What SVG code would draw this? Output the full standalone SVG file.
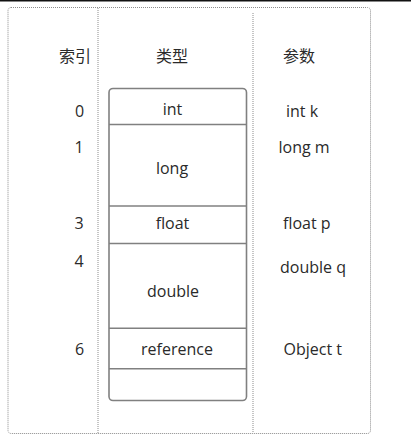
<svg xmlns="http://www.w3.org/2000/svg" width="411" height="443" viewBox="0 0 411 443">
<style>
.dot{fill:none;stroke:#8c8c8c;stroke-width:1;stroke-dasharray:1 1}
.box{fill:#fff;stroke:#808080;stroke-width:1.6}
.sep{stroke:#808080;stroke-width:1.6}
text{font-family:"Open Sans","Noto Sans CJK SC",sans-serif;font-size:16px;fill:#2a2a2a}
.cjk{font-family:"Noto Sans CJK SC",sans-serif;font-size:16px}
.m{text-anchor:middle}
</style>
<rect width="411" height="443" fill="#fff"/>
<rect x="0" y="0" width="411" height="1.5" fill="#111"/>
<g id="frame">
<rect class="dot" x="8" y="7.5" width="362.5" height="426" rx="3"/>
<line class="dot" x1="98" y1="8" x2="98" y2="433"/>
<line class="dot" x1="253" y1="13" x2="253" y2="433"/>
</g>
<g id="headers">
<text class="cjk" x="59" y="62">索引</text>
<text class="cjk m" x="172" y="62">类型</text>
<text class="cjk m" x="299" y="62">参数</text>
</g>
<g id="stack">
<rect class="box" x="109" y="88.5" width="137.5" height="312" rx="4"/>
<line class="sep" x1="109" y1="124.5" x2="246.5" y2="124.5"/>
<line class="sep" x1="109" y1="206" x2="246.5" y2="206"/>
<line class="sep" x1="109" y1="243.5" x2="246.5" y2="243.5"/>
<line class="sep" x1="109" y1="328.3" x2="246.5" y2="328.3"/>
<line class="sep" x1="109" y1="368.7" x2="246.5" y2="368.7"/>
<text class="m" x="172.5" y="115">int</text>
<text class="m" x="172" y="174">long</text>
<text class="m" x="172.5" y="229">float</text>
<text class="m" x="173" y="297">double</text>
<text class="m" x="177" y="355">reference</text>
</g>
<g id="indices">
<text class="m" x="79.5" y="117">0</text>
<text class="m" x="79" y="153">1</text>
<text class="m" x="79" y="229">3</text>
<text class="m" x="79" y="267">4</text>
<text class="m" x="79.5" y="355">6</text>
</g>
<g id="params">
<text x="286" y="117">int k</text>
<text x="278.5" y="153">long m</text>
<text x="283" y="229">float p</text>
<text x="280" y="273">double q</text>
<text x="283.5" y="355">Object t</text>
</g>
</svg>
